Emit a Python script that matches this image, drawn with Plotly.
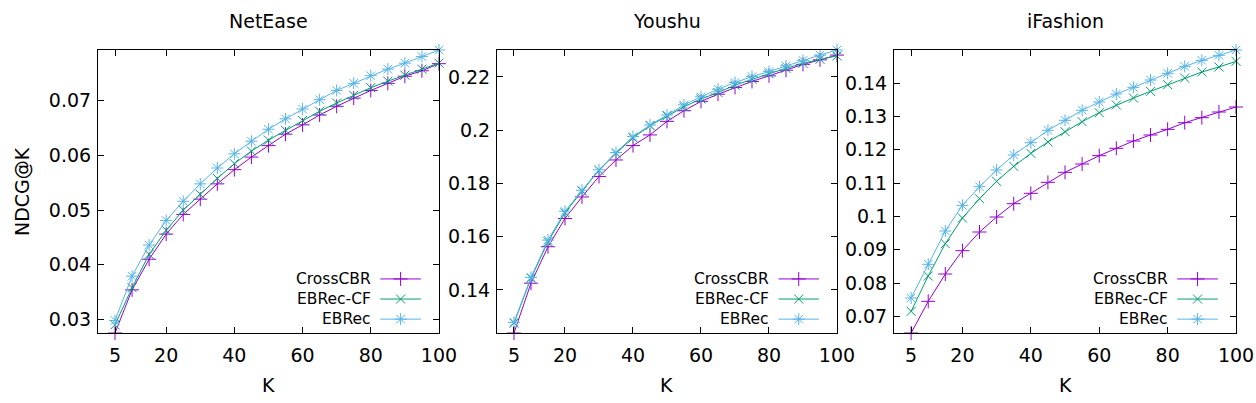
import plotly.graph_objects as go

# K values (x axis) shared by every panel
K = [5, 10, 15, 20, 25, 30, 35, 40, 45, 50, 55, 60, 65, 70, 75, 80, 85, 90, 95, 100]
X_TICKS = [5, 20, 40, 60, 80, 100]

DATASETS = ["NetEase", "Youshu", "iFashion"]
MODELS = ["CrossCBR", "EBRec-CF", "EBRec"]

# NDCG@K
netease_crosscbr = [0.0275, 0.0354, 0.0410, 0.0456, 0.0492, 0.0520, 0.0548, 0.0574, 0.0597, 0.0618,
                    0.0639, 0.0656, 0.0674, 0.0690, 0.0705, 0.0719, 0.0732, 0.0745, 0.0755, 0.0768]
netease_ebrec_cf = [0.0290, 0.0358, 0.0419, 0.0463, 0.0500, 0.0529, 0.0558, 0.0585, 0.0608, 0.0628,
                    0.0646, 0.0664, 0.0681, 0.0696, 0.0710, 0.0724, 0.0736, 0.0747, 0.0758, 0.0769]
netease_ebrec = [0.0298, 0.0379, 0.0436, 0.0481, 0.0516, 0.0548, 0.0577, 0.0603, 0.0626, 0.0648,
                 0.0667, 0.0685, 0.0702, 0.0719, 0.0732, 0.0746, 0.0758, 0.0769, 0.0781, 0.0793]

youshu_crosscbr = [0.1238, 0.1425, 0.1562, 0.1668, 0.1749, 0.1826, 0.1888, 0.1942, 0.1982, 0.2033,
                   0.2073, 0.2108, 0.2135, 0.2160, 0.2183, 0.2204, 0.2225, 0.2247, 0.2264, 0.2282]
youshu_ebrec_cf = [0.1275, 0.1444, 0.1581, 0.1689, 0.1771, 0.1849, 0.1913, 0.1971, 0.2017, 0.2054,
                   0.2088, 0.2117, 0.2141, 0.2169, 0.2191, 0.2212, 0.2232, 0.2251, 0.2266, 0.2279]
youshu_ebrec = [0.1278, 0.1447, 0.1587, 0.1695, 0.1774, 0.1851, 0.1916, 0.1976, 0.2019, 0.2057,
                0.2095, 0.2125, 0.2154, 0.2179, 0.2201, 0.2220, 0.2241, 0.2262, 0.2282, 0.2301]

ifashion_crosscbr = [0.0650, 0.0745, 0.0827, 0.0897, 0.0953, 0.0998, 0.1038, 0.1069, 0.1102, 0.1132,
                     0.1157, 0.1182, 0.1204, 0.1226, 0.1244, 0.1261, 0.1281, 0.1296, 0.1313, 0.1328]
ifashion_ebrec_cf = [0.0715, 0.0821, 0.0918, 0.0995, 0.1053, 0.1105, 0.1150, 0.1189, 0.1223, 0.1254,
                     0.1284, 0.1311, 0.1334, 0.1355, 0.1375, 0.1395, 0.1415, 0.1433, 0.1448, 0.1465]
ifashion_ebrec = [0.0755, 0.0856, 0.0956, 0.1033, 0.1089, 0.1139, 0.1184, 0.1221, 0.1258, 0.1288,
                  0.1318, 0.1343, 0.1367, 0.1387, 0.1409, 0.1429, 0.1450, 0.1468, 0.1483, 0.1499]

Y_TICKS = [
    [0.03, 0.04, 0.05, 0.06, 0.07],
    [0.14, 0.16, 0.18, 0.20, 0.22],
    [0.07, 0.08, 0.09, 0.10, 0.11, 0.12, 0.13, 0.14],
]

series = [
    [netease_crosscbr, netease_ebrec_cf, netease_ebrec],
    [youshu_crosscbr, youshu_ebrec_cf, youshu_ebrec],
    [ifashion_crosscbr, ifashion_ebrec_cf, ifashion_ebrec],
]

# gnuplot-ish look
colors = ["#9400D3", "#009E73", "#56B4E9"]
symbols = ["cross-thin", "x-thin", "asterisk"]
msizes = [10, 9, 10]
FONT = "DejaVu Sans"

x_domains = [(0.078, 0.3495), (0.3957, 0.6664), (0.7118, 0.9841)]
y_domain = (0.1737, 0.8759)

# legend placement inside each panel (axis-domain fractions)
leg_rows = [0.191, 0.120, 0.049]
leg_line = (0.828, 0.947)
leg_text_x = 0.806

fig = go.Figure()
layout = dict(
    width=1256, height=403, autosize=False,
    margin=dict(l=0, r=0, t=0, b=0),
    paper_bgcolor="white", plot_bgcolor="white",
    showlegend=False,
    font=dict(family=FONT, size=19, color="black"),
)
annotations = []

for i, name in enumerate(DATASETS):
    n = i + 1
    sfx = "" if n == 1 else str(n)
    lx = str(n + 3)  # overlay axis for legend samples

    for j, model in enumerate(MODELS):
        fig.add_trace(go.Scatter(
            x=K, y=series[i][j], mode="lines+markers", name=model,
            line=dict(color=colors[j], width=1),
            marker=dict(symbol=symbols[j], size=msizes[j],
                        line=dict(color=colors[j], width=1)),
            cliponaxis=False,
            xaxis="x" + sfx, yaxis="y" + sfx,
        ))

    # legend samples (line + one marker, gnuplot style)
    for j, model in enumerate(MODELS):
        fig.add_trace(go.Scatter(
            x=list(leg_line), y=[leg_rows[j]] * 2, mode="lines",
            line=dict(color=colors[j], width=1), hoverinfo="skip",
            xaxis="x" + lx, yaxis="y" + lx,
        ))
        fig.add_trace(go.Scatter(
            x=[sum(leg_line) / 2], y=[leg_rows[j]], mode="markers",
            marker=dict(symbol=symbols[j], size=msizes[j],
                        line=dict(color=colors[j], width=1)),
            hoverinfo="skip", xaxis="x" + lx, yaxis="y" + lx,
        ))
        annotations.append(dict(
            text=model, xref="x%s domain" % sfx, yref="y%s domain" % sfx,
            x=leg_text_x, y=leg_rows[j], xanchor="right", yanchor="middle",
            showarrow=False, font=dict(size=15.5),
        ))

    allv = [v for s in series[i] for v in s]
    common = dict(showline=True, linecolor="black", linewidth=1, mirror="allticks",
                  ticks="inside", ticklen=6, tickcolor="black", showgrid=False,
                  zeroline=False, automargin=False, tickfont=dict(size=19))
    layout["xaxis" + sfx] = dict(domain=list(x_domains[i]), anchor="y" + sfx,
                                 range=[0, 100], tickvals=X_TICKS,
                                 ticklabelstandoff=5, **common)
    layout["yaxis" + sfx] = dict(domain=list(y_domain), anchor="x" + sfx,
                                 range=[min(allv), max(allv)], tickvals=Y_TICKS[i],
                                 tickformat=".2~f", ticklabelstandoff=2, **common)
    layout["xaxis" + lx] = dict(domain=list(x_domains[i]), anchor="y" + lx,
                                overlaying="x" + sfx, range=[0, 1], visible=False)
    layout["yaxis" + lx] = dict(domain=list(y_domain), anchor="x" + lx,
                                overlaying="y" + sfx, range=[0, 1], visible=False)

    cx = sum(x_domains[i]) / 2
    annotations.append(dict(text=name, xref="paper", yref="paper", x=cx, y=0.9486,
                            xanchor="center", yanchor="middle", showarrow=False,
                            font=dict(size=19)))
    annotations.append(dict(text="K", xref="paper", yref="paper", x=cx, y=0.0447,
                            xanchor="center", yanchor="middle", showarrow=False,
                            font=dict(size=19)))

annotations.append(dict(text="NDCG@K", xref="paper", yref="paper", x=21.5 / 1256,
                        y=sum(y_domain) / 2, xanchor="center", yanchor="middle",
                        textangle=-90, showarrow=False, font=dict(size=19)))
layout["annotations"] = annotations

fig.update_layout(**layout)
# no page margin / scrollbars so the figure fills the window exactly
page_js = ("document.documentElement.style.overflow='hidden';"
           "document.body.style.margin='0';document.body.style.overflow='hidden';")
fig.write_html("out.html", config={"displayModeBar": False, "responsive": False},
               post_script=page_js)
